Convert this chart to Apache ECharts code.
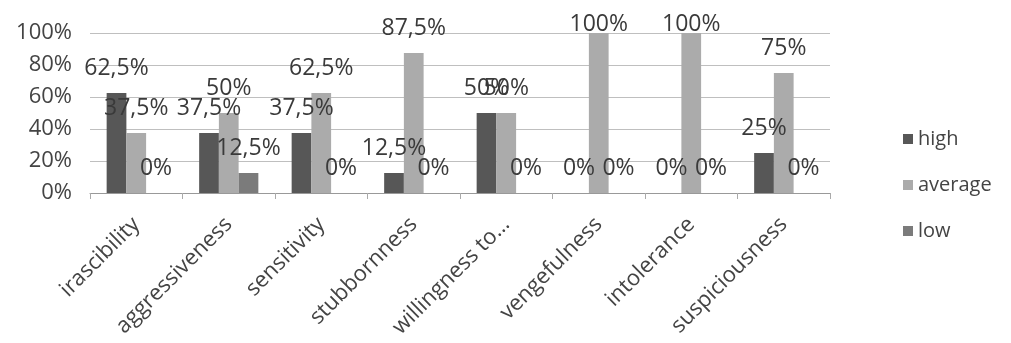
<!DOCTYPE html>
<html><head><meta charset="utf-8">
<script src="https://cdn.jsdelivr.net/npm/echarts@6/dist/echarts.min.js"></script>
<style>html,body{margin:0;padding:0;background:#fff}#c{width:1011px;height:343px}</style>
</head><body><div id="c"></div>
<script>
const categories = ['irascibility','aggressiveness','sensitivity','stubbornness','willingness to…','vengefulness','intolerance','suspiciousness'];
const high = [62.5, 37.5, 37.5, 12.5, 50, 0, 0, 25];
const average = [37.5, 50, 62.5, 87.5, 50, 100, 100, 75];
const low = [0, 12.5, 0, 0, 0, 0, 0, 0];
const yTicks = [0, 20, 40, 60, 80, 100];

const FONT = '"Open Sans", sans-serif';
const fmt = v => String(v).replace('.', ',') + '%';
function series(name, data, color) {
  return {
    name, type: 'bar', data, barGap: '0%', barCategoryGap: '36%',
    itemStyle: { color },
    label: { show: true, position: 'top', distance: 13, color: '#3a3a3a', fontSize: 23, fontFamily: FONT,
      formatter: p => fmt(p.value) },
    labelLayout: p => (p.labelRect.y < 13 ? { dy: 13 - p.labelRect.y } : {})
  };
}
const chart = echarts.init(document.getElementById('c'));
chart.setOption({
  animation: false,
  textStyle: { fontFamily: FONT },
  grid: { left: 90, right: 181, top: 33, bottom: 150, containLabel: false },
  legend: {
    orient: 'vertical', left: 898, top: 124, itemWidth: 10, itemHeight: 10, itemGap: 26,
    icon: 'rect', textStyle: { fontSize: 20, color: '#444', fontFamily: FONT },
    data: ['high', 'average', 'low']
  },
  xAxis: {
    type: 'category', data: categories,
    axisLine: { lineStyle: { color: '#999' } },
    axisTick: { show: true, length: 6, lineStyle: { color: '#aaa' } },
    axisLabel: { rotate: 45, fontSize: 22, color: '#444', margin: 28, interval: 0, fontFamily: FONT }
  },
  yAxis: {
    type: 'value', min: yTicks[0], max: yTicks[yTicks.length - 1], interval: 20,
    axisLine: { show: false }, axisTick: { show: false },
    splitLine: { lineStyle: { color: '#bfbfbf' } },
    axisLabel: { fontSize: 22, color: '#444', margin: 18, fontFamily: FONT, formatter: v => v + '%' }
  },
  series: [
    series('high', high, '#575757'),
    series('average', average, '#ababab'),
    series('low', low, '#7b7b7b')
  ]
});
</script></body></html>
